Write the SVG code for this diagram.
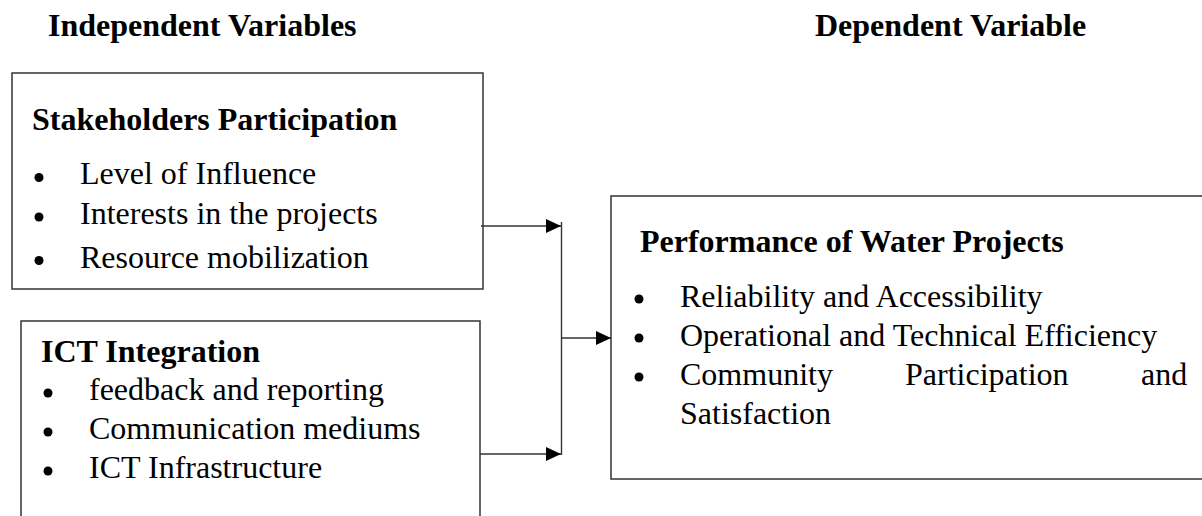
<svg xmlns="http://www.w3.org/2000/svg" width="1202" height="516" viewBox="0 0 1202 516">
  <style>
    .head { font-family: "Liberation Serif", "Times New Roman", serif; font-size: 32px; font-weight: bold; fill: #000; }
    .item { font-family: "Liberation Serif", "Times New Roman", serif; font-size: 32px; fill: #000; }
    .box { fill: #fff; stroke: #333; stroke-width: 1.5; }
    .dot { fill: #000; }
    .wire { fill: none; stroke: #333; stroke-width: 1.4; }
  </style>
  <defs>
    <marker id="arrow" viewBox="0 0 15 14" refX="15" refY="7" markerWidth="15" markerHeight="14" markerUnits="userSpaceOnUse" orient="auto">
      <path d="M0,0 L15,7 L0,14 Z" fill="#000"/>
    </marker>
  </defs>
  <rect width="1202" height="516" fill="#fff"/>

  <!-- column titles -->
  <text class="head" x="48" y="36">Independent Variables</text>
  <text class="head" x="815" y="36">Dependent Variable</text>

  <g id="stakeholders">
    <rect class="box" x="12" y="73" width="471" height="216"/>
    <text class="head" x="32" y="130">Stakeholders Participation</text>
    <circle class="dot" cx="39" cy="177.5" r="4.5"/>
    <text class="item" x="80" y="184">Level of Influence</text>
    <circle class="dot" cx="39" cy="217" r="4.5"/>
    <text class="item" x="80" y="224">Interests in the projects</text>
    <circle class="dot" cx="39" cy="260.5" r="4.5"/>
    <text class="item" x="80" y="268">Resource mobilization</text>
  </g>

  <g id="ict">
    <rect class="box" x="21" y="321" width="459" height="220"/>
    <text class="head" x="41" y="362">ICT Integration</text>
    <circle class="dot" cx="48" cy="393" r="4.5"/>
    <text class="item" x="89" y="400">feedback and reporting</text>
    <circle class="dot" cx="48" cy="432" r="4.5"/>
    <text class="item" x="89" y="439">Communication mediums</text>
    <circle class="dot" cx="48" cy="471" r="4.5"/>
    <text class="item" x="89" y="478">ICT Infrastructure</text>
  </g>

  <g id="performance">
    <rect class="box" x="611" y="196" width="600" height="283"/>
    <text class="head" x="640" y="252">Performance of Water Projects</text>
    <circle class="dot" cx="639" cy="299" r="4.5"/>
    <text class="item" x="680" y="307">Reliability and Accessibility</text>
    <circle class="dot" cx="639" cy="338" r="4.5"/>
    <text class="item" x="680" y="346">Operational and Technical Efficiency</text>
    <circle class="dot" cx="639" cy="377" r="4.5"/>
    <text class="item" x="680" y="385">Community</text>
    <text class="item" x="905" y="385">Participation</text>
    <text class="item" x="1141" y="385">and</text>
    <text class="item" x="680" y="424">Satisfaction</text>
  </g>

  <g id="connectors">
    <line class="wire" x1="481" y1="226" x2="561" y2="226" marker-end="url(#arrow)"/>
    <line class="wire" x1="480" y1="454" x2="561" y2="454" marker-end="url(#arrow)"/>
    <line class="wire" x1="561.5" y1="222" x2="561.5" y2="455"/>
    <line class="wire" x1="561.5" y1="338" x2="611" y2="338" marker-end="url(#arrow)"/>
  </g>
</svg>
